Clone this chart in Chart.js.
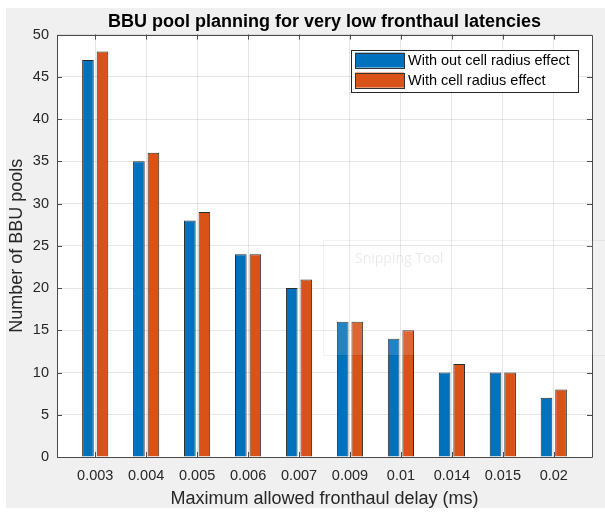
<!DOCTYPE html>
<html>
<head>
<meta charset="utf-8">
<title>BBU pool planning</title>
<script src="https://cdn.jsdelivr.net/npm/chart.js@4.4.1/dist/chart.umd.min.js"></script>
<style>
  html, body { margin: 0; padding: 0; background: #fff; }
  #wrap { width: 605px; height: 512px; }
</style>
</head>
<body>
<div id="wrap"><canvas id="chart" width="605" height="512"></canvas></div>
<script>
// delay values on the x axis and BBU pool counts for each case
var delays = ['0.003', '0.004', '0.005', '0.006', '0.007', '0.009', '0.01', '0.014', '0.015', '0.02'];
var withoutRadius = [47, 35, 28, 24, 20, 16, 14, 10, 10, 7];
var withRadius = [48, 36, 29, 24, 21, 16, 15, 11, 10, 8];
var seriesNames = ['With out cell radius effect', 'With cell radius effect'];
var yMin = 0, yMax = 50, yStep = 5;

var FONT = '"Liberation Sans", Arial, Helvetica, sans-serif';
var AXIS_COLOR = '#262626';

function points(values) {
  return values.map(function (v, i) { return { x: i + 1, y: v }; });
}

// figure background: grey frame, white axes area
var backdrop = {
  id: 'backdrop',
  beforeDraw: function (chart) {
    var ctx = chart.ctx, a = chart.chartArea;
    ctx.save();
    ctx.fillStyle = '#ffffff';
    ctx.fillRect(0, 0, chart.width, chart.height);
    ctx.fillStyle = '#f0f0f0';
    ctx.fillRect(6, 8, chart.width - 6, 500);
    ctx.fillStyle = '#ffffff';
    ctx.fillRect(a.left, a.top, a.right - a.left, a.bottom - a.top);
    ctx.restore();
  }
};

// axes box with inward tick marks on all four sides
var axesBox = {
  id: 'axesBox',
  afterDatasetsDraw: function (chart) {
    var ctx = chart.ctx, a = chart.chartArea;
    var xs = chart.scales.x, ys = chart.scales.y;
    var len = 5;
    ctx.save();
    ctx.strokeStyle = '#4a4a4a';
    ctx.lineWidth = 1;
    ctx.beginPath();
    ctx.rect(Math.round(a.left) + 0.5, Math.round(a.top) + 0.5,
             Math.round(a.right - a.left), Math.round(a.bottom - a.top));
    xs.ticks.forEach(function (t) {
      var px = Math.round(xs.getPixelForValue(t.value)) + 0.5;
      ctx.moveTo(px, a.top); ctx.lineTo(px, a.top + len);
      ctx.moveTo(px, a.bottom); ctx.lineTo(px, a.bottom - len);
    });
    ys.ticks.forEach(function (t) {
      var py = Math.round(ys.getPixelForValue(t.value)) + 0.5;
      ctx.moveTo(a.left, py); ctx.lineTo(a.left + len, py);
      ctx.moveTo(a.right, py); ctx.lineTo(a.right - len, py);
    });
    ctx.stroke();
    ctx.restore();
  }
};

// boxed legend in the upper right corner of the axes
var boxLegend = {
  id: 'boxLegend',
  afterDraw: function (chart) {
    var ctx = chart.ctx, a = chart.chartArea;
    var w = 227, h = 42;
    var x = a.right - 14 - w, y = a.top + 15;
    ctx.save();
    ctx.fillStyle = '#ffffff';
    ctx.fillRect(x, y, w, h);
    ctx.strokeStyle = '#262626';
    ctx.lineWidth = 1;
    ctx.strokeRect(Math.round(x) + 0.5, Math.round(y) + 0.5, w, h);
    ctx.font = '14.5px ' + FONT;
    ctx.textBaseline = 'middle';
    chart.data.datasets.forEach(function (ds, i) {
      var sy = y + 3 + i * 20;
      ctx.fillStyle = ds.backgroundColor;
      ctx.fillRect(x + 4, sy, 49, 15);
      ctx.strokeStyle = '#333333';
      ctx.strokeRect(Math.round(x + 4) + 0.5, Math.round(sy) + 0.5, 49, 15);
      ctx.fillStyle = '#000000';
      ctx.fillText(ds.label, x + 57, sy + 8);
    });
    ctx.restore();
  }
};

// faint screen-capture overlay panel
var overlay = {
  id: 'overlay',
  afterDraw: function (chart) {
    var ctx = chart.ctx;
    ctx.save();
    ctx.fillStyle = 'rgba(255,255,255,0.12)';
    ctx.fillRect(323, 240, 282, 115);
    ctx.strokeStyle = 'rgba(0,0,0,0.05)';
    ctx.strokeRect(323.5, 240.5, 282, 115);
    ctx.fillStyle = 'rgba(0,0,0,0.09)';
    ctx.font = '14px "Open Sans", ' + FONT;
    ctx.textBaseline = 'middle';
    ctx.fillText('Snipping Tool', 355, 259);
    ctx.restore();
  }
};

var ctx = document.getElementById('chart').getContext('2d');
var chart = new Chart(ctx, {
  type: 'bar',
  data: {
    datasets: [{
      label: seriesNames[0],
      data: points(withoutRadius),
      backgroundColor: '#0072BD',
      borderColor: '#2b2b2b',
      borderWidth: 1,
      borderSkipped: 'bottom'
    }, {
      label: seriesNames[1],
      data: points(withRadius),
      backgroundColor: '#D95319',
      borderColor: '#2b2b2b',
      borderWidth: 1,
      borderSkipped: 'bottom'
    }]
  },
  options: {
    responsive: false,
    animation: false,
    devicePixelRatio: 1,
    categoryPercentage: 0.571,
    barPercentage: 0.8,
    layout: { padding: { left: 0, right: 13, top: 0, bottom: 0 } },
    scales: {
      x: {
        type: 'linear',
        offset: false,
        min: 0.25,
        max: 10.75,
        afterBuildTicks: function (scale) {
          scale.ticks = delays.map(function (d, i) { return { value: i + 1 }; });
        },
        afterFit: function (scale) { scale.height = 55; },
        grid: { color: 'rgba(38,38,38,0.12)', drawTicks: false, offset: false },
        border: { display: false },
        ticks: {
          padding: 10,
          color: AXIS_COLOR,
          font: { family: FONT, size: 14.5 },
          maxRotation: 0,
          autoSkip: false,
          callback: function (value) { return delays[Math.round(value) - 1]; }
        },
        title: {
          display: true,
          text: 'Maximum allowed fronthaul delay (ms)',
          color: AXIS_COLOR,
          font: { family: FONT, size: 18 },
          padding: { top: 0, bottom: 2 }
        }
      },
      y: {
        min: yMin,
        max: yMax,
        afterFit: function (scale) { scale.width = 57; },
        grid: { color: 'rgba(38,38,38,0.12)', drawTicks: false },
        border: { display: false },
        ticks: {
          stepSize: yStep,
          padding: 8,
          color: AXIS_COLOR,
          font: { family: FONT, size: 14.5 }
        },
        title: {
          display: true,
          text: 'Number of BBU pools',
          color: AXIS_COLOR,
          font: { family: FONT, size: 18 },
          padding: { top: 6, bottom: 0 }
        }
      }
    },
    plugins: {
      legend: { display: false },
      tooltip: { enabled: false },
      title: {
        display: true,
        fullSize: false,
        text: 'BBU pool planning for very low fronthaul latencies',
        color: '#000000',
        font: { family: FONT, size: 18, weight: 'bold' },
        padding: { top: 11, bottom: 2 }
      }
    }
  },
  plugins: [backdrop, axesBox, boxLegend, overlay]
});
</script>
</body>
</html>
